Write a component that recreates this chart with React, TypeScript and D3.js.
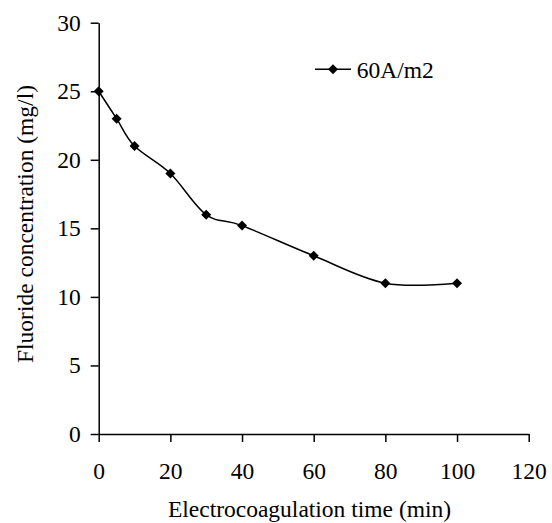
import React, { useRef, useEffect } from 'react';
import * as d3 from 'd3';

// data
const times = [0, 5, 10, 20, 30, 40, 60, 80, 100];
const fluoride = [25, 23, 21, 19, 16, 15.2, 13, 11, 11];
const xTicks = [0, 20, 40, 60, 80, 100, 120];
const yTicks = [0, 5, 10, 15, 20, 25, 30];
const seriesName = '60A/m2';

const App = () => {
  const ref = useRef<SVGSVGElement>(null);

  useEffect(() => {
    const width = 552;
    const height = 523;
    const font = "'Liberation Serif', serif";
    const fs = '23.5px';

    const svg = d3.select(ref.current);
    svg.selectAll('*').remove();

    const x = d3.scaleLinear().domain([0, 120]).range([98.7, 528.7]);
    const y = d3.scaleLinear().domain([0, 30]).range([434, 22.7]);

    // x axis
    const xAxis = svg
      .append('g')
      .attr('transform', `translate(0, ${y(0)})`)
      .call(d3.axisBottom(x).tickValues(xTicks).tickSize(8).tickPadding(20).tickSizeOuter(0));
    xAxis.attr('font-family', null).attr('font-size', null);
    xAxis.select('.domain').attr('stroke', '#000').attr('stroke-width', 1.5);
    xAxis.selectAll('.tick line').attr('stroke', '#000').attr('stroke-width', 1.5);
    xAxis
      .selectAll('text')
      .attr('fill', '#000')
      .style('font-family', font)
      .style('font-size', fs);

    // y axis
    const yAxis = svg
      .append('g')
      .attr('transform', `translate(${x(0)}, 0)`)
      .call(d3.axisLeft(y).tickValues(yTicks).tickSize(8).tickPadding(10).tickSizeOuter(0));
    yAxis.attr('font-family', null).attr('font-size', null);
    yAxis.select('.domain').attr('stroke', '#000').attr('stroke-width', 1.5);
    yAxis.selectAll('.tick line').attr('stroke', '#000').attr('stroke-width', 1.5);
    yAxis
      .selectAll('text')
      .attr('fill', '#000')
      .style('font-family', font)
      .style('font-size', fs);

    // smoothed line
    const pts = times.map((t, i) => [t, fluoride[i]] as [number, number]);
    svg
      .append('path')
      .datum(pts)
      .attr('fill', 'none')
      .attr('stroke', '#000')
      .attr('stroke-width', 1.5)
      .attr(
        'd',
        d3
          .line<[number, number]>()
          .curve(d3.curveCardinal.tension(0))
          .x((d) => x(d[0]))
          .y((d) => y(d[1]))
      );

    const diamond = d3.symbol().type(d3.symbolSquare).size(50);
    svg
      .append('g')
      .selectAll('path')
      .data(pts)
      .join('path')
      .attr('d', diamond)
      .attr('fill', '#000')
      .attr('transform', (d) => `translate(${x(d[0])}, ${y(d[1])}) rotate(45)`);

    // legend
    const lg = svg.append('g').attr('transform', 'translate(315, 69.3)');
    lg.append('line').attr('x1', 0).attr('x2', 36).attr('stroke', '#000').attr('stroke-width', 1.5);
    lg.append('path').attr('d', diamond).attr('fill', '#000').attr('transform', 'translate(18, 0) rotate(45)');
    lg.append('text')
      .attr('x', 41.7)
      .attr('y', 9)
      .style('font-family', font)
      .style('font-size', fs)
      .attr('fill', '#000')
      .text(seriesName);

    // axis titles
    svg
      .append('text')
      .attr('x', 309.5)
      .attr('y', 517)
      .attr('text-anchor', 'middle')
      .style('font-family', font)
      .style('font-size', fs)
      .attr('fill', '#000')
      .text('Electrocoagulation time (min)');

    svg
      .append('text')
      .attr('transform', 'translate(33, 224) rotate(-90)')
      .attr('text-anchor', 'middle')
      .style('font-family', font)
      .style('font-size', fs)
      .attr('fill', '#000')
      .text('Fluoride concentration (mg/l)');

    svg.attr('width', width).attr('height', height);
  }, []);

  return (
    <svg
      ref={ref}
      width={552}
      height={523}
      style={{ position: 'absolute', left: 0, top: 0, background: '#fff' }}
    />
  );
};

export default App;
